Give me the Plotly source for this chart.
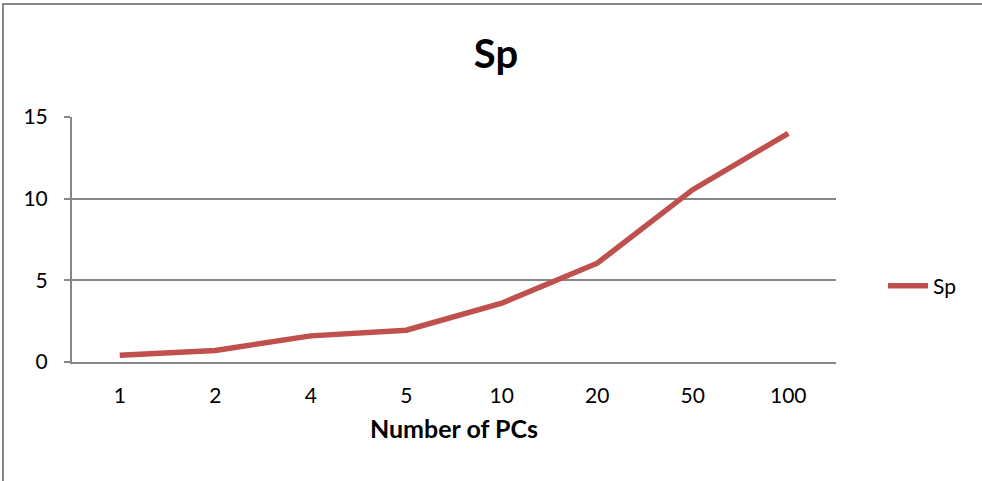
import plotly.graph_objects as go

categories = ["1", "2", "4", "5", "10", "20", "50", "100"]
sp_values = [0.41, 0.71, 1.6, 1.95, 3.6, 6.05, 10.55, 14.0]
y_ticks = [0, 5, 10, 15]

L, R, T, B = 72, 146, 117, 119
W, H = 982, 481
pw = W - L - R
ph = H - T - B

def px_x(p):
    return (p - L) / pw

def px_y(p):
    return (H - B - p) / ph

fig = go.Figure()
fig.add_trace(go.Scatter(
    x=categories, y=sp_values, mode="lines", name="Sp",
    line=dict(color="#C0504D", width=5.5),
))

fig.update_layout(
    width=W, height=H,
    margin=dict(l=L, r=R, t=T, b=B),
    paper_bgcolor="white", plot_bgcolor="white",
    font=dict(family="Lato, 'Open Sans', sans-serif", color="black", size=21),
    title=dict(text="<b>Sp</b>", x=px_x(496), xref="paper", xanchor="center",
               y=1 - 54 / H, yanchor="middle", font=dict(size=40)),
    showlegend=True,
    legend=dict(x=px_x(883), y=px_y(286), xanchor="left", yanchor="middle",
                font=dict(size=21), bgcolor="rgba(0,0,0,0)", itemwidth=40),
    xaxis=dict(
        type="category", categoryorder="array", categoryarray=categories,
        showgrid=False, showline=True, linecolor="#868686", linewidth=2,
        ticks="", ticklabelstandoff=14, range=[-0.5, 7.5],
        title=dict(text="<b>Number of PCs</b>", font=dict(size=25), standoff=14),
        fixedrange=True,
    ),
    yaxis=dict(
        range=[0, 15], tickvals=y_ticks, showgrid=True, gridcolor="#868686",
        gridwidth=1.5, showline=True, linecolor="#868686", linewidth=2,
        ticks="outside", ticklen=6, tickcolor="#868686", tickwidth=1.5,
        ticklabelstandoff=12, zeroline=False, fixedrange=True,
    ),
)

fig.add_shape(type="rect", xref="paper", yref="paper",
              x0=px_x(3), x1=px_x(W + 20), y0=px_y(H + 20), y1=px_y(4),
              line=dict(color="#868686", width=2), fillcolor="rgba(0,0,0,0)",
              layer="below")

fig.write_html("out.html", config={"displayModeBar": False},
               post_script="document.body.style.margin='0';")
